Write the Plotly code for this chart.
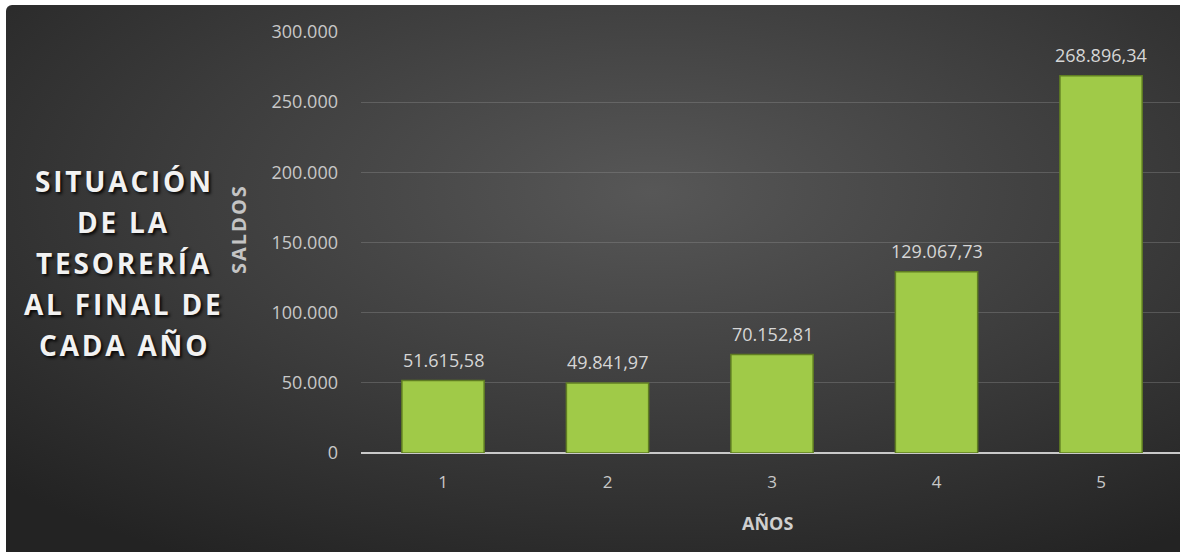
import base64
import plotly.graph_objects as go

# Year-end treasury balances
years = [1, 2, 3, 4, 5]
saldos = [51615.58, 49841.97, 70152.81, 129067.73, 268896.34]
y_ticks = [0, 50000, 100000, 150000, 200000, 250000, 300000]
title_lines = ["SITUACIÓN", "DE LA", "TESORERÍA", "AL FINAL DE", "CADA AÑO"]

W, H = 1180, 552
ML, MR, MT, MB = 361, 0, 32, 99
plot_w = W - ML - MR
plot_h = H - MT - MB

HAIR = "\u200a"


def es_number(v):
    s = f"{v:,.2f}"
    return s.replace(",", "#").replace(".", ",").replace("#", ".")


def spaced(t):
    # open up the tracking of the side title
    return HAIR.join(t)


# dark radial-gradient backdrop as an SVG image (runs past the right/bottom edges)
bg_w, bg_h = W - 6 + 20, H - 5 + 20
svg = f"""<svg xmlns='http://www.w3.org/2000/svg' width='{bg_w}' height='{bg_h}'>
<defs><radialGradient id='g' cx='0.54' cy='0.33' r='0.75'>
<stop offset='0' stop-color='#575757'/><stop offset='0.55' stop-color='#3b3b3b'/>
<stop offset='1' stop-color='#232323'/></radialGradient></defs>
<rect x='0' y='0' width='{bg_w}' height='{bg_h}' rx='6' fill='url(#g)'/></svg>"""
bg_src = "data:image/svg+xml;base64," + base64.b64encode(svg.encode()).decode()

fig = go.Figure()
fig.add_trace(go.Bar(
    x=years, y=saldos,
    marker=dict(color="#a0ca48", line=dict(color="#5f7d22", width=1.5)),
    width=0.5,
    hoverinfo="skip",
))

annotations = []
for x, v in zip(years, saldos):
    annotations.append(dict(
        x=x, y=v, xref="x", yref="y", text=es_number(v), showarrow=False,
        yanchor="bottom", yshift=7,
        font=dict(family="Open Sans", size=18, color="#d6d6d6"),
    ))

# big side title, one line per annotation
line_y0, line_step = 181, 41
for i, t in enumerate(title_lines):
    yp = line_y0 + i * line_step
    annotations.append(dict(
        x=(123 - ML) / plot_w, y=(H - MB - yp) / plot_h, xref="paper", yref="paper",
        text=f"<b>{spaced(t)}</b>", showarrow=False, xanchor="center", yanchor="middle",
        font=dict(family="Open Sans", size=28, color="#f2f2f2",
                  shadow="2px 2px 3px rgba(0,0,0,0.85)"),
    ))

# axis titles
annotations.append(dict(
    x=(238 - ML) / plot_w, y=(H - MB - 230) / plot_h, xref="paper", yref="paper",
    text=f"<b>{spaced('SALDOS')}</b>", showarrow=False, textangle=-90,
    xanchor="center", yanchor="middle",
    font=dict(family="Open Sans", size=20, color="#c4c4c4"),
))
annotations.append(dict(
    x=(767 - ML) / plot_w, y=(H - MB - 523) / plot_h, xref="paper", yref="paper",
    text="<b>AÑOS</b>", showarrow=False, xanchor="center", yanchor="middle",
    font=dict(family="Open Sans", size=18, color="#cfcfcf"),
))

fig.update_layout(
    width=W, height=H,
    margin=dict(l=ML, r=MR, t=MT, b=MB),
    paper_bgcolor="white",
    plot_bgcolor="rgba(0,0,0,0)",
    separators=",.",
    showlegend=False,
    bargap=0.5,
    annotations=annotations,
    images=[dict(
        source=bg_src, xref="paper", yref="paper",
        x=(6 - ML) / plot_w, y=(H - MB - 5) / plot_h,
        sizex=bg_w / plot_w, sizey=bg_h / plot_h,
        xanchor="left", yanchor="top", sizing="stretch", layer="below",
    )],
    xaxis=dict(
        range=[0.5015, 5.48], tickvals=years, ticktext=[str(y) for y in years],
        showgrid=False, zeroline=False, showline=False,
        ticks="", ticklabelstandoff=17,
        tickfont=dict(family="Open Sans", size=17, color="#c8c8c8"),
        fixedrange=True,
    ),
    yaxis=dict(
        range=[0, 300000], tickvals=y_ticks, tickformat=",d",
        showgrid=True, gridcolor="rgba(150,150,150,0.35)", gridwidth=1,
        zeroline=True, zerolinecolor="#c9c9c9", zerolinewidth=2,
        showline=False, ticks="", ticklabelstandoff=22,
        tickfont=dict(family="Open Sans", size=18, color="#c8c8c8"),
        fixedrange=True,
    ),
)

fig.write_html("out.html", config={"displayModeBar": False})
